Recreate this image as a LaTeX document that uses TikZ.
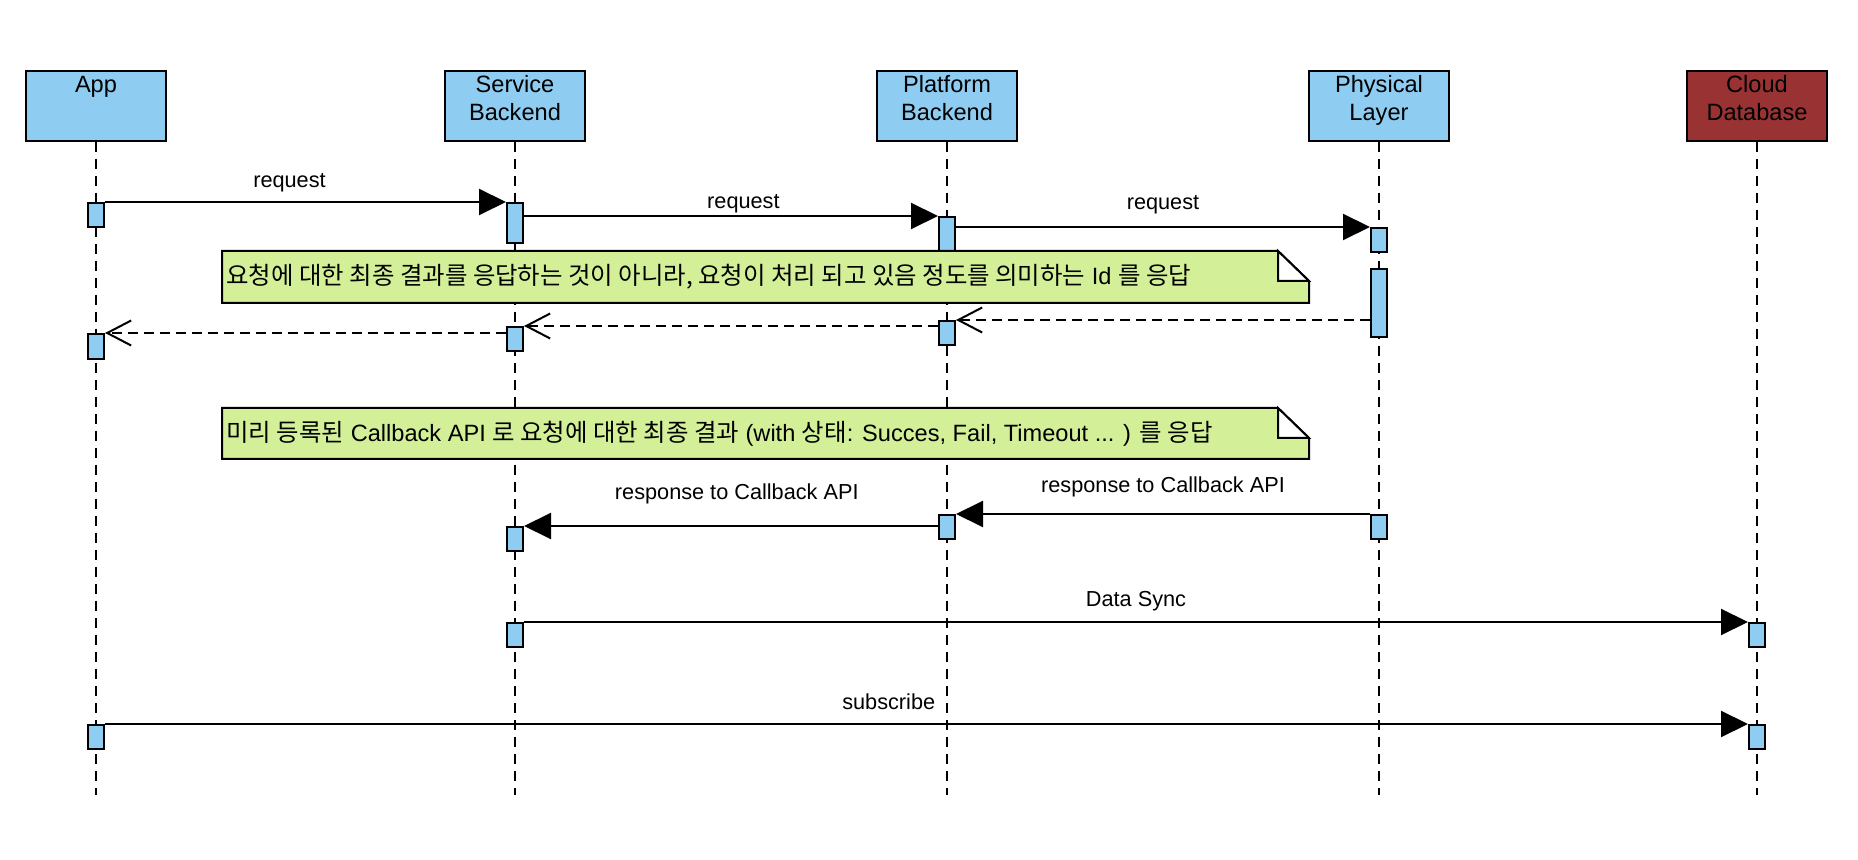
\documentclass[tikz,border=0pt]{standalone}
\usepackage{fontspec}
\setmainfont{Liberation Sans}
\newfontfamily\kr[Scale=1.035]{Noto Sans CJK KR}
\usetikzlibrary{arrows.meta}

\definecolor{lifeblue}{RGB}{142,205,241}
\definecolor{dbred}{RGB}{153,51,51}
\definecolor{notegreen}{RGB}{211,240,153}

\newcommand{\headtxt}[2]{\parbox[t][35pt][t]{70pt}{\centering\baselineskip=14pt\rule{0pt}{11pt}#1\\#2}}

\tikzset{
  head/.style={draw, fill=lifeblue, line width=1pt, inner sep=0pt, anchor=north, font=\fontsize{11.8}{14}\selectfont},
  act/.style={draw, fill=lifeblue, line width=1pt, inner sep=0pt, minimum width=8pt, anchor=north},
  life/.style={line width=1pt, dash pattern=on 5pt off 3.5pt},
  msg/.style={line width=1pt, -{Triangle[length=13.5pt,width=13pt]}},
  ret/.style={line width=1pt, dash pattern=on 5pt off 3pt, -{Straight Barb[length=12pt,width=12.5pt]}},
  lbl/.style={font=\fontsize{10.85}{13}\selectfont, inner sep=0pt, anchor=base},
  notebox/.style={draw, fill=notegreen, line width=1pt},
  notetext/.style={font=\fontsize{11.8}{14}\selectfont, inner sep=0pt, anchor=west}
}

\begin{document}
\begin{tikzpicture}[x=0.5pt, y=-0.5pt]
\useasboundingbox (0,0) rectangle (1858,860);
% lifeline heads
\node[head] (app) at (96,70) {\headtxt{App}{}};
\node[head] (svc) at (515,70) {\headtxt{Service}{Backend}};
\node[head] (plat) at (947,70) {\headtxt{Platform}{Backend}};
\node[head] (phy) at (1379,70) {\headtxt{Physical}{Layer}};
\node[head, fill=dbred] (cdb) at (1757,70) {\headtxt{Cloud}{Database}};
\foreach \n in {app,svc,plat,phy,cdb}
  \draw[life] (\n.south) -- ++(0,653);
% activations
\node[act, minimum height=12pt] (a1) at (96,202) {};
\node[act, minimum height=12.5pt] (a2) at (96,333) {};
\node[act, minimum height=12pt] (a3) at (96,724) {};
\node[act, minimum height=20pt] (s1) at (515,202) {};
\node[act, minimum height=12pt] (s2) at (515,326) {};
\node[act, minimum height=12pt] (s3) at (515,526) {};
\node[act, minimum height=12pt] (s4) at (515,622) {};
\node[act, minimum height=17pt] (p1) at (947,216) {};
\node[act, minimum height=12pt] (p2) at (947,320) {};
\node[act, minimum height=12pt] (p3) at (947,514) {};
\node[act, minimum height=12pt] (l1) at (1379,227) {};
\node[act, minimum height=34pt] (l2) at (1379,268) {};
\node[act, minimum height=12pt] (l3) at (1379,514) {};
\node[act, minimum height=12pt] (c1) at (1757,622) {};
\node[act, minimum height=12pt] (c2) at (1757,724) {};
% requests
\draw[msg] (a1.north east) -- node[lbl, pos=0.46, yshift=7pt] {request} (s1.north west);
\draw[msg] (s1.east |- p1.north) -- node[lbl, pos=0.53, yshift=3.5pt] {request} (p1.north west);
\draw[msg] (p1.east |- l1.north) -- node[lbl, midway, yshift=8.5pt] {request} (l1.north west);
% returns
\draw[ret] (l2.west |- p2.north) -- (p2.north east);
\draw[ret] (p2.west |- s2.north) -- (s2.north east);
\draw[ret] (s2.west |- a2.north) -- (a2.north east);
% callbacks
\draw[msg] (l3.north west) -- node[lbl, midway, yshift=10.5pt] {response to Callback API} (p3.north east);
\draw[msg] (p3.west |- s3.north) -- node[lbl, pos=0.486, yshift=13pt] {response to Callback API} (s3.north east);
\draw[msg] (s4.north east) -- node[lbl, midway, yshift=7.5pt] {Data Sync} (c1.north west);
\draw[msg] (a3.north east) -- node[lbl, pos=0.477, yshift=7.5pt] {subscribe} (c2.north west);
% notes
\draw[notebox] (222,251) -- (1278,251) -- (1309,281) -- (1309,303) -- (222,303) -- cycle;
\draw[line width=1pt, fill=white] (1278,251) -- (1278,281) -- (1309,281) -- cycle;
\node[notetext] (n1) at (226,277) {{\kr 요청에 대한 최종 결과를 응답하는 것이 아니라, 요청이 처리 되고 있음 정도를 의미하는} Id {\kr 를 응답}};
\draw[notebox] (222,408) -- (1278,408) -- (1309,438) -- (1309,459) -- (222,459) -- cycle;
\draw[line width=1pt, fill=white] (1278,408) -- (1278,438) -- (1309,438) -- cycle;
\node[notetext] (n2) at (226,434) {{\kr 미리 등록된} Callback API {\kr 로 요청에 대한 최종 결과} (with {\kr 상태}: Succes, Fail, Timeout ... ) {\kr 를 응답}};
\end{tikzpicture}
\end{document}
